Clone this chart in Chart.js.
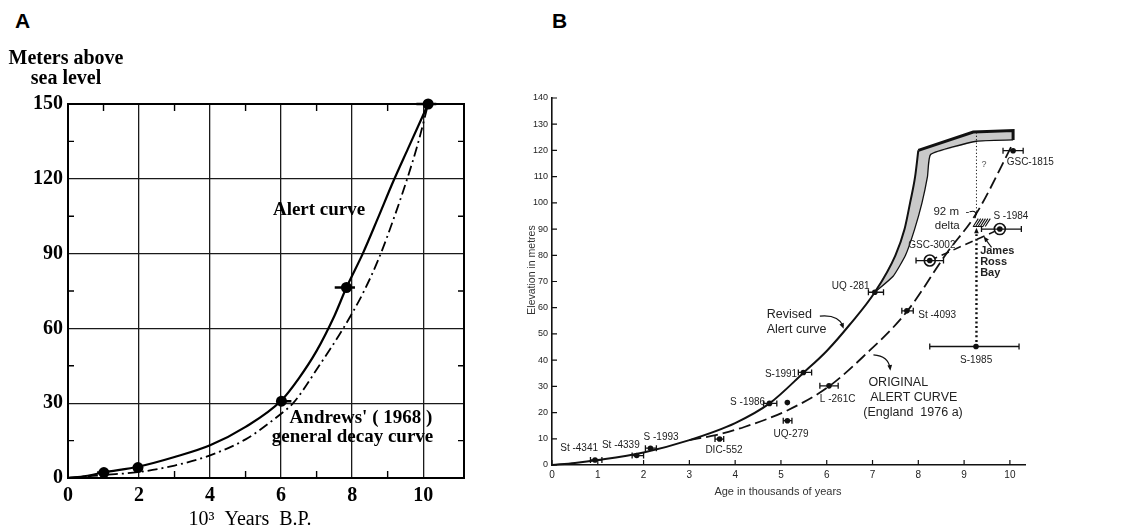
<!DOCTYPE html>
<html>
<head>
<meta charset="utf-8">
<script src="https://cdn.jsdelivr.net/npm/chart.js@4.4.1/dist/chart.umd.min.js"></script>
<style>
  body { margin: 0; background: #fff; width: 1126px; height: 531px; overflow: hidden; position: relative; }
  .tag { position: absolute; top: 9px; font: bold 21px "Liberation Sans", Arial, sans-serif; color: #000; }
  #canvasA { position: absolute; left: 0; top: 0; }
  #canvasB { position: absolute; left: 480px; top: 0; }
</style>
</head>
<body>
<div class="tag" style="left:15px">A</div>
<div class="tag" style="left:552px">B</div>
<canvas id="canvasA" width="480" height="531"></canvas>
<canvas id="canvasB" width="646" height="531"></canvas>
<script>
// ---------- panel A data ----------
const xTicksA = [0, 1, 2, 3, 4, 5, 6, 7, 8, 9, 10];
const yTicksA = [0, 15, 30, 45, 60, 75, 90, 105, 120, 135, 150];
const alertAX = [0, 0.5, 1, 2, 3, 4, 5, 6, 6.5, 7, 7.5, 7.84, 8.3, 8.72, 9.16, 9.57, 10.14];
const alertAY = [0, 0.8, 2.2, 4.6, 8.4, 13.1, 20.5, 31, 40, 51, 65, 76.4, 90, 104, 119, 132, 150];
const andrewsX = [0, 1, 2, 3, 4, 5, 6, 6.34, 7.07, 7.75, 8.3, 8.75, 9.17, 9.55, 9.85, 10.14];
const andrewsY = [0, 1.2, 2.4, 5, 9.1, 15.5, 25.8, 30, 45, 60, 74, 88, 104, 120, 134, 150];
const datesAX  = [1.01, 1.97, 6.01, 7.84, 10.14];
const datesAY  = [2.2, 4.2, 30.8, 76.4, 150];
const datesALo = [0.82, 1.86, 5.87, 7.51, 9.81];
const datesAHi = [1.14, 2.06, 6.29, 8.08, 10.37];

// ---------- panel B data ----------
const xTicksB = [0, 1, 2, 3, 4, 5, 6, 7, 8, 9, 10];
const yTicksB = [0, 10, 20, 30, 40, 50, 60, 70, 80, 90, 100, 110, 120, 130, 140];
const revisedX = [0, 0.5, 1, 2, 3, 4, 4.75, 5.5, 6, 6.5, 7.05, 7.5, 7.7, 7.82, 7.93, 8.0];
const revisedY = [0, 0.8, 1.9, 4.8, 9.5, 16, 23.5, 35.3, 43.5, 53.5, 65.9, 80, 90, 100, 110, 120];
const bandTopX = [8.0, 9.2, 10.07, 10.07];
const bandTopY = [120, 127, 127.6, 124];
const bandInnerX = [10.07, 9.27, 8.27, 8.2, 8.08, 7.92, 7.72, 7.45, 7.05];
const bandInnerY = [124, 123.5, 118.5, 110, 100, 90, 80, 72, 65.9];
const originalX = [3, 3.6, 4.2, 5.16, 6.05, 6.8, 7.75, 8.62, 9.27, 10.07];
const originalY = [9.5, 11.5, 14.5, 21, 30, 41.4, 58.5, 80.8, 96, 122.8];
const jrbX = [8.25, 9.78];
const jrbY = [78, 90];
const sampleNames = ["St -4341", "St -4339", "S -1993", "DIC-552", "S -1986", "UQ-279", "S-1991",
                     "L -261C", "UQ -281", "St -4093", "GSC-3002", "S -1984", "S-1985", "GSC-1815"];
const sampleAge   = [0.94, 1.85, 2.15, 3.66, 4.75, 5.14, 5.49, 6.05, 7.05, 7.75, 8.25, 9.78, 9.26, 10.07];
const sampleElev  = [1.9, 3.6, 6.4, 9.9, 23.5, 16.9, 35.3, 30.2, 65.9, 58.8, 78.0, 90.0, 45.2, 119.9];
const sampleAgeLo = [0.84, 1.75, 2.04, 3.56, 4.62, 5.05, 5.38, 5.85, 6.91, 7.64, 7.95, 9.38, 8.25, 9.85];
const sampleAgeHi = [1.09, 2.0, 2.28, 3.75, 4.91, 5.24, 5.67, 6.25, 7.24, 7.89, 8.55, 10.25, 10.2, 10.29];
const circledAge  = [8.25, 9.78];
const circledElev = [78.0, 90.0];
const extraAge  = [5.14];
const extraElev = [23.8];

// label placement (data units) for sample names
const sampleLabelPos = [[0.18, 6.4], [1.09, 7.6], [2.0, 10.4], [3.35, 5.5], [3.89, 23.9], [4.84, 11.8], [4.65, 34.7],
                        [5.85, 25.1], [6.11, 68.1], [8.0, 57.3], [7.78, 84], [9.64, 94.8], [8.91, 39.8], [9.93, 115.4]];

const pts = (xs, ys) => xs.map((x, i) => ({ x, y: ys[i] }));

// ---------- shared plugins ----------
const notes = {
  id: 'notes',
  afterDatasetsDraw(chart, args, opts) {
    const { ctx, scales: { x, y } } = chart;
    (opts.items || []).forEach(n => {
      ctx.save();
      ctx.font = n.font;
      ctx.fillStyle = n.color || '#000';
      ctx.textAlign = n.align || 'left';
      ctx.textBaseline = 'middle';
      const px = n.px ?? x.getPixelForValue(n.x);
      const py = n.py ?? y.getPixelForValue(n.y);
      ctx.translate(px, py);
      if (n.rot) ctx.rotate(n.rot);
      ctx.fillText(n.text, 0, 0);
      ctx.restore();
    });
  }
};

const errorBars = {
  id: 'errorBars',
  afterDatasetsDraw(chart, args, o) {
    if (!o.xs) return;
    const { ctx, scales: { x, y } } = chart;
    ctx.save();
    ctx.strokeStyle = o.color || '#000';
    ctx.lineWidth = o.width;
    ctx.beginPath();
    o.xs.forEach((_, i) => {
      const py = y.getPixelForValue(o.ys[i]);
      const a = x.getPixelForValue(o.lo[i]), b = x.getPixelForValue(o.hi[i]);
      ctx.moveTo(a, py); ctx.lineTo(b, py);
      if (o.cap) {
        ctx.moveTo(a, py - o.cap); ctx.lineTo(a, py + o.cap);
        ctx.moveTo(b, py - o.cap); ctx.lineTo(b, py + o.cap);
      }
    });
    ctx.stroke();
    ctx.restore();
  }
};

// frame + inner minor ticks for panel A
const frameA = {
  id: 'frameA',
  afterDraw(chart) {
    const { ctx, chartArea: a, scales: { x, y } } = chart;
    ctx.save();
    ctx.strokeStyle = '#000';
    ctx.lineWidth = 2;
    ctx.strokeRect(a.left, a.top, a.right - a.left, a.bottom - a.top);
    ctx.lineWidth = 1.4;
    ctx.beginPath();
    xTicksA.filter(v => v % 2).forEach(v => {
      const px = x.getPixelForValue(v);
      ctx.moveTo(px, a.bottom); ctx.lineTo(px, a.bottom - 7);
      ctx.moveTo(px, a.top); ctx.lineTo(px, a.top + 7);
    });
    yTicksA.filter(v => v % 30).forEach(v => {
      const py = y.getPixelForValue(v);
      ctx.moveTo(a.left, py); ctx.lineTo(a.left + 6, py);
      ctx.moveTo(a.right, py); ctx.lineTo(a.right - 6, py);
    });
    ctx.stroke();
    ctx.restore();
  }
};

// inner ticks for panel B
const ticksB = {
  id: 'ticksB',
  afterDraw(chart) {
    const { ctx, chartArea: a, scales: { x, y } } = chart;
    ctx.save();
    ctx.strokeStyle = '#111';
    ctx.lineWidth = 1.2;
    ctx.beginPath();
    xTicksB.forEach(v => { const px = x.getPixelForValue(v); ctx.moveTo(px, a.bottom); ctx.lineTo(px, a.bottom - 5); });
    yTicksB.forEach(v => { const py = y.getPixelForValue(v); ctx.moveTo(a.left, py); ctx.lineTo(a.left + 5, py); });
    ctx.stroke();
    ctx.restore();
  }
};

function arrowHead(ctx, fx, fy, tx, ty, size) {
  const ang = Math.atan2(ty - fy, tx - fx);
  ctx.beginPath();
  ctx.moveTo(tx, ty);
  ctx.lineTo(tx - size * Math.cos(ang - 0.4), ty - size * Math.sin(ang - 0.4));
  ctx.lineTo(tx - size * Math.cos(ang + 0.4), ty - size * Math.sin(ang + 0.4));
  ctx.closePath();
  ctx.fill();
}

// arrows, dotted marker line and delta hatch of panel B
const extrasB = {
  id: 'extrasB',
  afterDatasetsDraw(chart) {
    const { ctx, scales: { x, y } } = chart;
    const X = v => x.getPixelForValue(v), Y = v => y.getPixelForValue(v);
    ctx.save();
    ctx.strokeStyle = '#111';
    ctx.fillStyle = '#111';
    // thick dotted line S-1985 up to delta
    ctx.lineWidth = 2.4;
    ctx.setLineDash([2, 2.6]);
    ctx.beginPath(); ctx.moveTo(X(9.27), Y(45.2)); ctx.lineTo(X(9.27), Y(88)); ctx.stroke();
    // thin dotted line to the band
    ctx.lineWidth = 1;
    ctx.setLineDash([1.2, 2.2]);
    ctx.beginPath(); ctx.moveTo(X(9.27), Y(126.9)); ctx.lineTo(X(9.27), Y(95)); ctx.stroke();
    ctx.setLineDash([]);
    arrowHead(ctx, X(9.27), Y(85), X(9.27), Y(90.5), 6);
    // hatch of the 92 m delta
    ctx.lineWidth = 1.1;
    ctx.beginPath();
    for (let i = 0; i < 6; i++) {
      const bx = X(9.2) + i * 2.4;
      ctx.moveTo(bx, Y(91)); ctx.lineTo(bx + 5, Y(94));
    }
    ctx.moveTo(X(9.19), Y(91)); ctx.lineTo(X(9.42), Y(91));
    ctx.stroke();
    // hook from "92 m -"
    ctx.lineWidth = 1.2;
    ctx.beginPath();
    ctx.moveTo(X(9.12), Y(96.6));
    ctx.quadraticCurveTo(X(9.3), Y(97.5), X(9.24), Y(94.2));
    ctx.stroke();
    // Revised arrow
    ctx.beginPath();
    ctx.moveTo(X(5.85), Y(56.8));
    ctx.quadraticCurveTo(X(6.25), Y(57.5), X(6.36), Y(53));
    ctx.stroke();
    arrowHead(ctx, X(6.3), Y(55), X(6.37), Y(52), 6);
    // Original arrow
    ctx.beginPath();
    ctx.moveTo(X(7.02), Y(42));
    ctx.quadraticCurveTo(X(7.35), Y(41.5), X(7.38), Y(37));
    ctx.stroke();
    arrowHead(ctx, X(7.37), Y(39), X(7.39), Y(36), 6);
    // James Ross Bay arrow
    ctx.beginPath();
    ctx.moveTo(X(9.6), Y(83));
    ctx.lineTo(X(9.45), Y(86.5));
    ctx.stroke();
    arrowHead(ctx, X(9.52), Y(85), X(9.43), Y(87.2), 6);
    ctx.restore();
  }
};

// ---------- chart A ----------
const serifBold = size => `bold ${size}px "Liberation Serif", "Times New Roman", serif`;
new Chart(document.getElementById('canvasA'), {
  type: 'scatter',
  data: {
    datasets: [
      { data: pts(datesAX, datesAY), pointRadius: 5.5, pointBackgroundColor: '#000', pointBorderWidth: 0, clip: false },
      { data: pts(alertAX, alertAY), showLine: true, borderColor: '#000', borderWidth: 2.2,
        pointRadius: 0, cubicInterpolationMode: 'monotone', clip: false },
      { data: pts(andrewsX, andrewsY), showLine: true, borderColor: '#000', borderWidth: 1.8,
        borderDash: [10, 4, 2, 4], pointRadius: 0, cubicInterpolationMode: 'monotone', clip: false }
    ]
  },
  options: {
    responsive: false,
    animation: false,
    layout: { padding: { top: 104, right: 16, left: 0, bottom: 0 } },
    plugins: {
      legend: { display: false },
      tooltip: { enabled: false },
      errorBars: { xs: datesAX, ys: datesAY, lo: datesALo, hi: datesAHi, width: 2.4, cap: 0 },
      notes: {
        items: [
          { text: 'Meters above', px: 66, py: 59, align: 'center', font: serifBold(20) },
          { text: 'sea level', px: 66, py: 79, align: 'center', font: serifBold(20) },
          { text: '10³  Years  B.P.', px: 250, py: 520, align: 'center', font: '20px "Liberation Serif", serif' },
          { text: 'Alert curve', x: 5.77, y: 107.5, font: serifBold(19) },
          { text: "Andrews' ( 1968 )", x: 6.24, y: 24, font: serifBold(19) },
          { text: 'general decay curve', x: 5.74, y: 16.3, font: serifBold(19) }
        ]
      }
    },
    scales: {
      x: {
        type: 'linear', min: 0, max: 11.15,
        afterBuildTicks: s => { s.ticks = xTicksA.map(v => ({ value: v })); },
        afterFit: s => { s.height = 53; },
        ticks: { callback: v => (v % 2 === 0 ? v : ''), color: '#000', font: { family: '"Liberation Serif", serif', size: 20, weight: 'bold' }, padding: 6, maxRotation: 0 },
        grid: { color: c => (c.tick && c.tick.value % 2 === 0 && c.tick.value > 0 ? '#1a1a1a' : 'rgba(0,0,0,0)'), lineWidth: 1.3, drawTicks: false },
        border: { color: '#000', width: 2 }
      },
      y: {
        type: 'linear', min: 0, max: 150,
        afterBuildTicks: s => { s.ticks = yTicksA.map(v => ({ value: v })); },
        afterFit: s => { s.width = 68; },
        ticks: { callback: v => (v % 30 === 0 ? v : ''), color: '#000', font: { family: '"Liberation Serif", serif', size: 20, weight: 'bold' }, padding: 5 },
        grid: { color: c => (c.tick && c.tick.value % 30 === 0 && c.tick.value > 0 ? '#1a1a1a' : 'rgba(0,0,0,0)'), lineWidth: 1.3, drawTicks: false },
        border: { color: '#000', width: 2 }
      }
    }
  },
  plugins: [frameA, errorBars, notes]
});

// ---------- chart B ----------
// first dataset is painted last (on top), so the band polygon comes at the end
const sans = (size, w) => `${w || ''} ${size}px "Liberation Sans", Arial, sans-serif`;
const bandPoly = pts(revisedX.slice(10), revisedY.slice(10))
  .concat(pts(bandTopX.slice(1), bandTopY.slice(1)), pts(bandInnerX, bandInnerY));

new Chart(document.getElementById('canvasB'), {
  type: 'scatter',
  data: {
    datasets: [
      { data: pts(sampleAge, sampleElev), pointRadius: 2.8, pointBorderWidth: 0, pointBackgroundColor: '#111', clip: false },
      { data: pts(extraAge, extraElev), pointRadius: 2.8, pointBorderWidth: 0, pointBackgroundColor: '#111', clip: false },
      { data: pts(circledAge, circledElev), pointRadius: 5.5, pointBorderWidth: 1.6, pointBorderColor: '#111', pointBackgroundColor: '#fff', clip: false },
      { data: pts(jrbX, jrbY), showLine: true, borderColor: '#111', borderWidth: 1.6, borderDash: [8, 5], pointRadius: 0, clip: false },
      { data: pts(originalX, originalY), showLine: true, borderColor: '#111', borderWidth: 1.8, borderDash: [12, 5],
        pointRadius: 0, cubicInterpolationMode: 'monotone', clip: false },
      { data: pts(revisedX, revisedY), showLine: true, borderColor: '#111', borderWidth: 2, pointRadius: 0,
        cubicInterpolationMode: 'monotone', clip: false },
      { data: pts(bandTopX, bandTopY), showLine: true, borderColor: '#111', borderWidth: 3, pointRadius: 0, tension: 0, clip: false },
      { data: pts(bandInnerX, bandInnerY), showLine: true, borderColor: '#111', borderWidth: 1.3, pointRadius: 0, tension: 0.15, clip: false },
      { data: bandPoly, showLine: true, borderWidth: 0, borderColor: 'rgba(0,0,0,0)', fill: 'shape',
        backgroundColor: '#c9c9c9', pointRadius: 0, tension: 0, clip: false }
    ]
  },
  options: {
    responsive: false,
    animation: false,
    layout: { padding: { top: 98, right: 101, left: 0, bottom: 0 } },
    plugins: {
      legend: { display: false },
      tooltip: { enabled: false },
      errorBars: { xs: sampleAge, ys: sampleElev, lo: sampleAgeLo, hi: sampleAgeHi, width: 1.3, cap: 3, color: '#111' },
      notes: {
        items: sampleNames.map((t, i) => ({ text: t, x: sampleLabelPos[i][0], y: sampleLabelPos[i][1], font: sans(10), color: '#222' }))
          .concat([
            { text: 'Elevation in metres', px: 52, py: 270, rot: -Math.PI / 2, align: 'center', font: sans(10.5), color: '#333' },
            { text: 'Age in thousands of years', px: 298, py: 492, align: 'center', font: sans(11), color: '#333' },
            { text: 'Revised', x: 4.69, y: 57.3, font: sans(12.5), color: '#222' },
            { text: 'Alert curve', x: 4.69, y: 51.8, font: sans(12.5), color: '#222' },
            { text: 'ORIGINAL', x: 6.91, y: 31.4, font: sans(12.5), color: '#222' },
            { text: 'ALERT CURVE', x: 6.95, y: 25.8, font: sans(12.5), color: '#222' },
            { text: '(England  1976 a)', x: 6.8, y: 20, font: sans(12.5), color: '#222' },
            { text: '92 m  -', x: 8.33, y: 96.5, font: sans(11.5), color: '#222' },
            { text: 'delta', x: 8.36, y: 91.4, font: sans(11.5), color: '#222' },
            { text: 'James', x: 9.35, y: 81.5, font: sans(11, 'bold'), color: '#222' },
            { text: 'Ross', x: 9.35, y: 77.6, font: sans(11, 'bold'), color: '#222' },
            { text: 'Bay', x: 9.35, y: 73.4, font: sans(11, 'bold'), color: '#222' },
            { text: '?', x: 9.38, y: 114.5, font: sans(9), color: '#555' }
          ])
      }
    },
    scales: {
      x: {
        type: 'linear', min: 0, max: 10.33,
        afterBuildTicks: s => { s.ticks = xTicksB.map(v => ({ value: v })); },
        afterFit: s => { s.height = 66; },
        ticks: { color: '#222', font: { family: '"Liberation Sans", Arial, sans-serif', size: 10 }, padding: 4, maxRotation: 0 },
        grid: { drawOnChartArea: false, drawTicks: false },
        border: { color: '#111', width: 1.6 }
      },
      y: {
        type: 'linear', min: 0, max: 140,
        afterBuildTicks: s => { s.ticks = yTicksB.map(v => ({ value: v })); },
        afterFit: s => { s.width = 72; },
        ticks: { color: '#222', font: { family: '"Liberation Sans", Arial, sans-serif', size: 9 }, padding: 4 },
        grid: { drawOnChartArea: false, drawTicks: false },
        border: { color: '#111', width: 1.6 }
      }
    }
  },
  plugins: [ticksB, errorBars, extrasB, notes]
});
</script>
</body>
</html>
